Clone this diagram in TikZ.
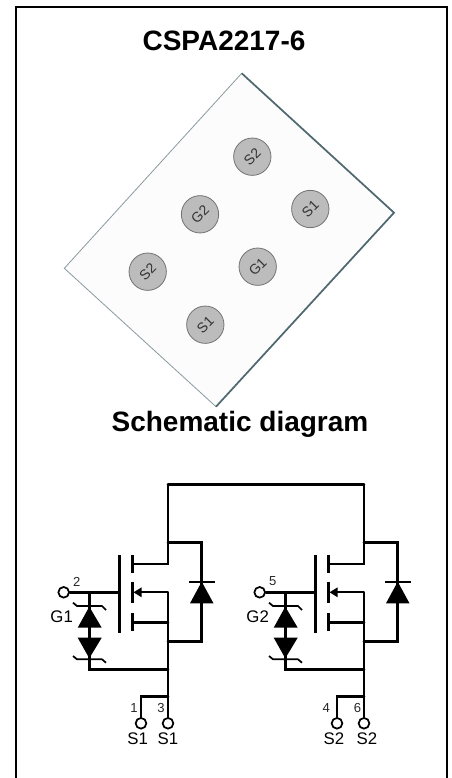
\documentclass[tikz,border=0pt]{standalone}
\usepackage{fontspec}
\setmainfont{Liberation Sans}
\usetikzlibrary{arrows.meta}
\definecolor{edgedark}{HTML}{4F6870}
\definecolor{edgethin}{HTML}{8A9A9F}
\definecolor{padgrey}{HTML}{BCBCBC}
\tikzset{
	wire/.style={line width=1.95pt,line cap=round},
	fetbar/.style={line width=2.8pt},
	gatebar/.style={line width=2.1pt},
	zenerbar/.style={line width=1.3pt,line join=round},
	terminal/.style={circle,draw,line width=1.3pt,fill=white,inner sep=0pt,minimum size=8pt},
	pad/.style={circle,draw=black!55,fill=padgrey,line width=.6pt,inner sep=0pt,minimum size=28pt,
		rotate=45,text=black!80,font=\fontsize{10.5}{11}\selectfont},
	heading/.style={font=\fontsize{21}{24}\selectfont\bfseries,inner sep=0pt,anchor=base},
	pinlabel/.style={font=\fontsize{12.6}{14}\selectfont,inner sep=0pt},
	pinnumber/.style={font=\fontsize{9.8}{11}\selectfont,text=black!85,inner sep=0pt}
}
\begin{document}
\begin{tikzpicture}[x=0.75pt,y=-0.75pt]
	\useasboundingbox (0,0) rectangle (451,778);
	% frame, open at the bottom
	\draw[line width=1.5pt] (15.5,778) -- (15.5,6.5) -- (447,6.5) -- (447,778);
	\node[heading] (title) at (224,50) {CSPA2217-6};
	\node[heading] (schem) at (240,431.7) {Schematic diagram};
	% package
	\fill[black!1] (241.7,73.3) -- (394,212.7) -- (216,406.7) -- (64.3,268.3) -- cycle;
	\draw[edgethin,line width=.6pt] (216,406.7) -- (64.3,268.3) -- (241.7,73.3);
	\draw[edgedark,line width=1.3pt] (241.7,73.3) -- (394,212.7) -- (216,406.7);
	\foreach \name/\x/\y/\txt in {pa/252.3/156.7/S2,pb/200/214.3/G2,pc/310.3/209/S1,pd/147.7/271.7/S2,pe/257.7/266.7/G1,pf/205.3/324.7/S1}
		\node[pad] (\name) at (\x,\y) {\txt};
	% one cell per MOSFET
	\foreach \n/\dx/\gname/\sname/\pa/\pb/\pg/\la/\lb/\na/\nb in {1/0/G1/S1/1/3/2/137.7/168/134/161,2/196/G2/S2/4/6/5/138/171/130.3/161.5}
	{
		\begin{scope}[xshift=\dx*0.75pt]
			\coordinate (d\n) at (168,484.5);
			\coordinate (dj\n) at (168,564);
			\coordinate (sj\n) at (168,592.3);
			\coordinate (dt\n) at (168,542.7);
			\coordinate (db\n) at (168,641.7);
			\coordinate (zb\n) at (168,669.3);
			\coordinate (st\n) at (168,696.7);
			\coordinate (zt\n) at (89.3,592.3);
			\node[terminal] (g\n) at (63.7,592.3) {};
			\node[terminal] (sa\n) at (141,723.3) {};
			\node[terminal] (sb\n) at (168,723.3) {};
			% FET body
			\draw[gatebar] (119.3,555) -- (119.3,632.7);
			\draw[fetbar] (132.5,555) -- (132.5,572.7);
			\draw[fetbar] (132.5,581.7) -- (132.5,602.7);
			\draw[fetbar] (132.5,613) -- (132.5,631);
			\draw[wire] (g\n) -- (119.3,592.3);
			\draw[wire] (d\n) -- (dj\n) -- (132.5,564);
			\draw[wire] (132.5,622.3) -- (168,622.3);
			\draw[line width=1.3pt,-{Triangle[length=6pt,width=7pt]}] (sj\n) -- (133.5,592.3);
			\draw[wire] (sj\n) -- (sb\n);
			% body diode
			\draw[wire] (dt\n) -- (201.7,542.7) -- (201.7,641.7) -- (db\n);
			\fill (201.7,581.7) -- (213.5,603.3) -- (190,603.3) -- cycle;
			\draw[line width=1.6pt] (189,581.7) -- (215,581.7);
			% gate protection
			\draw[wire] (zt\n) -- (89.3,669.3) -- (zb\n);
			\fill (89.3,606.7) -- (101.7,627.7) -- (77.7,627.7) -- cycle;
			\fill (89.3,658.3) -- (101.7,637.7) -- (77.7,637.7) -- cycle;
			\draw[zenerbar] (73,602.7) -- (77,606) -- (102,606) -- (106,610);
			\draw[zenerbar] (73,656) -- (77,659.3) -- (102,659.3) -- (106,662.7);
			% source pins
			\draw[wire] (st\n) -- (141,696.7) -- (sa\n);
			\node[pinlabel] (lg\n) at (61.7,616.7) {\gname};
			\node[pinnumber] (ng\n) at (76.7,581.5) {\pg};
			\node[pinlabel] (la\n) at (\la,739) {\sname};
			\node[pinlabel] (lb\n) at (\lb,739) {\sname};
			\node[pinnumber] (na\n) at (\na,708) {\pa};
			\node[pinnumber] (nb\n) at (\nb,708) {\pb};
		\end{scope}
	}
	\draw[wire] (d1) -- (d2);
\end{tikzpicture}
\end{document}
